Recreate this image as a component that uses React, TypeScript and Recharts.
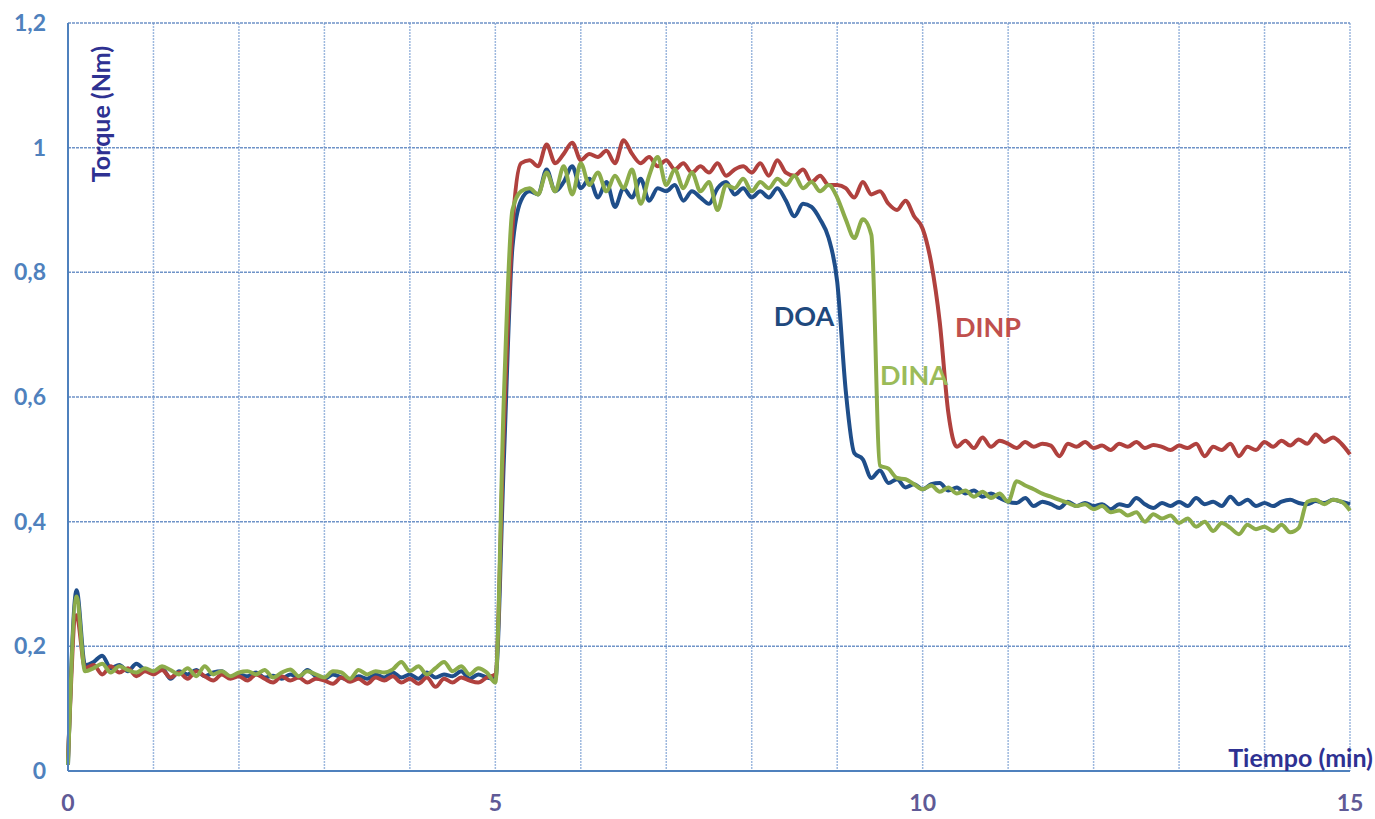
import React from 'react';
import { LineChart, Line, XAxis, YAxis, CartesianGrid } from 'recharts';

// torque readings every 0.1 min from 0 to 15 min
const TIME = Array.from({ length: 151 }, (_, i) => i / 10);

const DOA = [
  0.01, 0.29,
  0.17, 0.175, 0.185, 0.165, 0.17, 0.16, 0.172, 0.162, 0.158, 0.165,
  0.148, 0.16, 0.155, 0.162, 0.152, 0.158, 0.16, 0.15, 0.155, 0.152,
  0.158, 0.15, 0.153, 0.148, 0.155, 0.15, 0.162, 0.152, 0.148, 0.155,
  0.15, 0.145, 0.152, 0.148, 0.155, 0.15, 0.158, 0.15, 0.155, 0.148,
  0.158, 0.15, 0.155, 0.152, 0.16, 0.148, 0.155, 0.15, 0.148,
  0.5, 0.84,
  0.915, 0.93, 0.925, 0.965, 0.93, 0.945, 0.97, 0.935, 0.95, 0.92,
  0.945, 0.905, 0.935, 0.92, 0.95, 0.915, 0.935, 0.93, 0.94, 0.915,
  0.93, 0.92, 0.91, 0.935, 0.945, 0.925, 0.935, 0.92, 0.93, 0.92,
  0.935, 0.915, 0.89, 0.91, 0.905, 0.885, 0.855, 0.785, 0.61, 0.51,
  0.5, 0.47, 0.482, 0.462, 0.468, 0.455, 0.46, 0.452, 0.46, 0.462,
  0.45, 0.455, 0.445, 0.45, 0.44, 0.445, 0.438, 0.432, 0.43, 0.438,
  0.425, 0.432, 0.428, 0.422, 0.432, 0.425, 0.43, 0.425, 0.428, 0.42,
  0.428, 0.425, 0.438, 0.428, 0.422, 0.43, 0.425, 0.432, 0.425, 0.438,
  0.428, 0.432, 0.425, 0.44, 0.428, 0.435, 0.425, 0.43, 0.425, 0.432,
  0.435, 0.43, 0.428, 0.433, 0.43, 0.435, 0.432, 0.428,
];

const DINP = [
  0.02, 0.25,
  0.165, 0.17, 0.155, 0.168, 0.158, 0.165, 0.152, 0.16, 0.155, 0.162,
  0.15, 0.158, 0.148, 0.16, 0.152, 0.145, 0.155, 0.148, 0.152, 0.145,
  0.155, 0.148, 0.142, 0.152, 0.145, 0.15, 0.142, 0.148, 0.145, 0.14,
  0.15, 0.143, 0.148, 0.14, 0.15, 0.145, 0.152, 0.142, 0.148, 0.14,
  0.15, 0.135, 0.148, 0.142, 0.15, 0.145, 0.142, 0.15, 0.155,
  0.55, 0.87,
  0.975, 0.98, 0.97, 1.005, 0.975, 0.99, 1.008, 0.98, 0.99, 0.985,
  0.995, 0.975, 1.012, 0.99, 0.975, 0.985, 0.97, 0.98, 0.965, 0.975,
  0.96, 0.97, 0.96, 0.975, 0.955, 0.965, 0.97, 0.96, 0.975, 0.955,
  0.98, 0.96, 0.955, 0.965, 0.945, 0.955, 0.94, 0.94, 0.935, 0.92,
  0.945, 0.925, 0.93, 0.91, 0.9, 0.915, 0.89, 0.87, 0.815, 0.72,
  0.575, 0.52, 0.53, 0.518, 0.535, 0.52, 0.53, 0.525, 0.518, 0.528,
  0.52, 0.525, 0.522, 0.505, 0.525, 0.52, 0.528, 0.518, 0.522, 0.515,
  0.525, 0.52, 0.528, 0.518, 0.523, 0.52, 0.515, 0.522, 0.518, 0.525,
  0.505, 0.52, 0.515, 0.525, 0.505, 0.52, 0.515, 0.528, 0.52, 0.53,
  0.522, 0.532, 0.525, 0.54, 0.528, 0.535, 0.525, 0.508,
];

const DINA = [
  0.01, 0.28,
  0.16, 0.165, 0.172, 0.158, 0.168, 0.162, 0.158, 0.165, 0.16, 0.168,
  0.162, 0.155, 0.165, 0.152, 0.168, 0.155, 0.16, 0.152, 0.158, 0.16,
  0.155, 0.162, 0.15, 0.158, 0.163, 0.152, 0.16, 0.155, 0.15, 0.16,
  0.158, 0.148, 0.162, 0.155, 0.16, 0.158, 0.163, 0.175, 0.16, 0.168,
  0.155, 0.165, 0.175, 0.16, 0.168, 0.155, 0.165, 0.158, 0.142,
  0.6, 0.9,
  0.93, 0.935, 0.925, 0.96, 0.93, 0.97, 0.925, 0.975, 0.94, 0.96,
  0.93, 0.955, 0.935, 0.965, 0.91, 0.955, 0.985, 0.94, 0.965, 0.935,
  0.96, 0.93, 0.945, 0.9, 0.94, 0.935, 0.95, 0.93, 0.945, 0.935,
  0.95, 0.94, 0.955, 0.935, 0.945, 0.93, 0.94, 0.92, 0.885, 0.855,
  0.885, 0.86, 0.49, 0.485, 0.47, 0.468, 0.46, 0.452, 0.458, 0.448,
  0.455, 0.445, 0.45, 0.44, 0.448, 0.438, 0.445, 0.432, 0.465, 0.458,
  0.452, 0.445, 0.44, 0.435, 0.43, 0.425, 0.428, 0.42, 0.425, 0.415,
  0.418, 0.41, 0.415, 0.4, 0.412, 0.405, 0.41, 0.398, 0.405, 0.392,
  0.4, 0.385, 0.398, 0.39, 0.38, 0.395, 0.388, 0.392, 0.385, 0.395,
  0.383, 0.39, 0.432, 0.435, 0.428, 0.435, 0.432, 0.418,
];

const X_TICKS = [0, 1, 2, 3, 4, 5, 6, 7, 8, 9, 10, 11, 12, 13, 14, 15];
const X_LABELED = [0, 5, 10, 15];
const Y_TICKS = [0, 0.2, 0.4, 0.6, 0.8, 1, 1.2];

const FONT = 'Lato, "Open Sans", sans-serif';

const rows = TIME.map((t, i) => ({ t, doa: DOA[i], dinp: DINP[i], dina: DINA[i] }));

const tag = (left: number, top: number, color: string, size = 26): React.CSSProperties => ({
  position: 'absolute',
  left,
  top,
  transform: 'translate(-50%, -50%)',
  color,
  fontFamily: FONT,
  fontWeight: 700,
  fontSize: size,
  whiteSpace: 'nowrap',
  lineHeight: 1,
});

export default function App() {
  return (
    <div style={{ position: 'absolute', left: 0, top: 0, width: 1375, height: 819, background: '#fff' }}>
      <LineChart width={1375} height={819} data={rows} margin={{ top: 23, right: 25, bottom: 0, left: 0 }}>
        <CartesianGrid horizontal={false} stroke="#9DB8DE" strokeDasharray="2 1" strokeWidth={1.5} />
        <CartesianGrid vertical={false} stroke="#6F93C8" strokeDasharray="3 1" strokeWidth={1.5} />
        <XAxis
          dataKey="t"
          type="number"
          domain={[0, 15]}
          ticks={X_TICKS}
          interval={0}
          tickFormatter={(v: number) => (X_LABELED.includes(v) ? String(v) : '')}
          axisLine={{ stroke: '#4F81BD', strokeWidth: 2 }}
          tickLine={false}
          tickSize={0}
          tickMargin={24}
          height={48}
          tick={{ fill: '#5F5A96', fontSize: 23, fontWeight: 700, fontFamily: FONT }}
        />
        <YAxis
          type="number"
          domain={[0, 1.2]}
          ticks={Y_TICKS}
          interval={0}
          tickFormatter={(v: number) => String(Math.round(v * 10) / 10).replace('.', ',')}
          axisLine={{ stroke: '#4F81BD', strokeWidth: 2 }}
          tickLine={false}
          tickSize={0}
          tickMargin={22}
          width={68}
          tick={{ fill: '#4F81BD', fontSize: 23, fontWeight: 700, fontFamily: FONT }}
        />
        <Line type="monotone" dataKey="doa" stroke="#1F4E8A" strokeWidth={4} dot={false} isAnimationActive={false} />
        <Line type="monotone" dataKey="dinp" stroke="#B0413E" strokeWidth={4} dot={false} isAnimationActive={false} />
        <Line type="monotone" dataKey="dina" stroke="#8CAC4A" strokeWidth={4} dot={false} isAnimationActive={false} />
      </LineChart>

      <div style={{ ...tag(100, 114, '#2E3192', 25), transform: 'translate(-50%, -50%) rotate(-90deg)' }}>Torque (Nm)</div>
      <div style={{ ...tag(1373, 757, '#2E3192', 25), transform: 'translate(-100%, -50%)' }}>Tiempo (min)</div>

      <div style={tag(804, 315, '#1F497D', 27)}>DOA</div>
      <div style={tag(988, 326, '#C0504D', 27)}>DINP</div>
      <div style={tag(914, 374, '#9BBB59', 27)}>DINA</div>
    </div>
  );
}
